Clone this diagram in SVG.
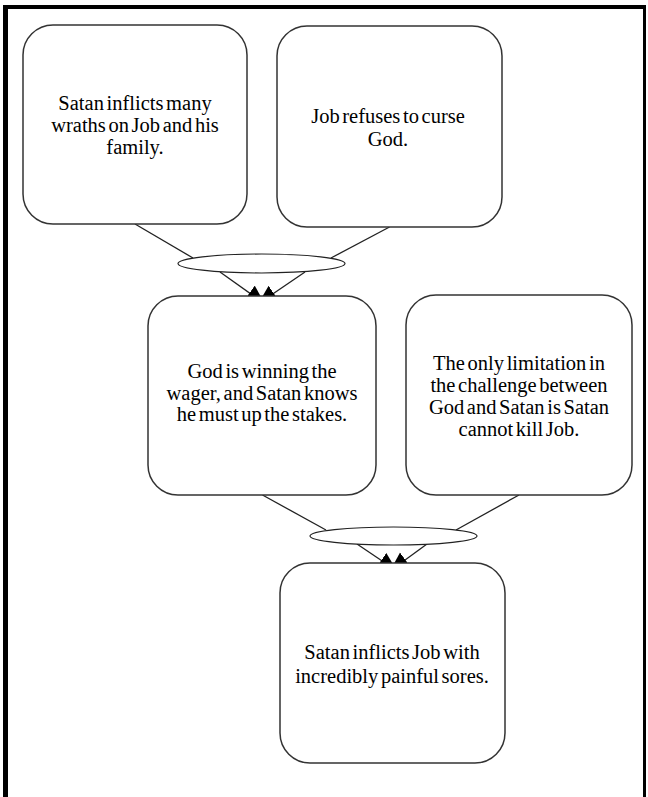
<svg xmlns="http://www.w3.org/2000/svg" width="648" height="797" viewBox="0 0 648 797">
<style>
.box{fill:#fff;stroke:#333;stroke-width:1.5}
.ell{fill:#fff;stroke:#222;stroke-width:1.2}
.ln{stroke:#222;stroke-width:1.3;fill:none}
.t{font-size:20.5px;fill:#000;text-anchor:middle;word-spacing:-2.5px}
</style>
<defs>
<marker id="ah" markerUnits="userSpaceOnUse" markerWidth="22" markerHeight="20" refX="19" refY="9" orient="auto">
<path d="M0,0 L19,9 L0,18 Z" fill="#000"/>
</marker>
</defs>
<rect width="648" height="797" fill="#fff"/>
<g id="frame">
<line x1="3" y1="7" x2="646" y2="7" stroke="#000" stroke-width="4"/>
<line x1="5.5" y1="5" x2="5.5" y2="797" stroke="#000" stroke-width="5"/>
<line x1="644.5" y1="5" x2="644.5" y2="797" stroke="#000" stroke-width="3"/>
</g>
<g id="connectors">
<line class="ln" x1="135" y1="224" x2="193" y2="258"/>
<line class="ln" x1="389.5" y1="227" x2="331" y2="258"/>
<line class="ln" x1="220" y1="272" x2="265" y2="304" marker-end="url(#ah)"/>
<line class="ln" x1="305" y1="272" x2="258" y2="304" marker-end="url(#ah)"/>
<line class="ln" x1="262.5" y1="495" x2="326" y2="530"/>
<line class="ln" x1="519" y1="495" x2="456" y2="530"/>
<line class="ln" x1="357" y1="544" x2="397" y2="571" marker-end="url(#ah)"/>
<line class="ln" x1="427" y1="544" x2="390" y2="571" marker-end="url(#ah)"/>
<ellipse class="ell" cx="261.5" cy="263.5" rx="83.5" ry="9.5"/>
<ellipse class="ell" cx="393.5" cy="536" rx="83.5" ry="9"/>
</g>
<g font-family="Liberation Serif, Times New Roman, Times, serif">
<g id="n1">
<rect class="box" x="23" y="25" width="224" height="199" rx="30"/>
<text class="t" x="135" y="110">Satan inflicts many</text>
<text class="t" x="135" y="132">wraths on Job and his</text>
<text class="t" x="135" y="154">family.</text>
</g>
<g id="n2">
<rect class="box" x="277" y="26" width="225" height="201" rx="30"/>
<text class="t" x="388" y="123">Job refuses to curse</text>
<text class="t" x="388" y="146">God.</text>
</g>
<g id="n3">
<rect class="box" x="148" y="296" width="228" height="199" rx="30"/>
<text class="t" x="262" y="378">God is  winning the</text>
<text class="t" x="262" y="400">wager, and Satan knows</text>
<text class="t" x="262" y="421">he must up the stakes.</text>
</g>
<g id="n4">
<rect class="box" x="406" y="295" width="226" height="200" rx="30"/>
<text class="t" x="519" y="370">The only limitation in</text>
<text class="t" x="519" y="392">the challenge between</text>
<text class="t" x="519" y="414">God and Satan is Satan</text>
<text class="t" x="519" y="436">cannot kill Job.</text>
</g>
<g id="n5">
<rect class="box" x="280" y="563" width="225" height="200" rx="30"/>
<text class="t" x="392" y="659">Satan inflicts Job with</text>
<text class="t" x="392" y="683">incredibly painful sores.</text>
</g>
</g>
</svg>
